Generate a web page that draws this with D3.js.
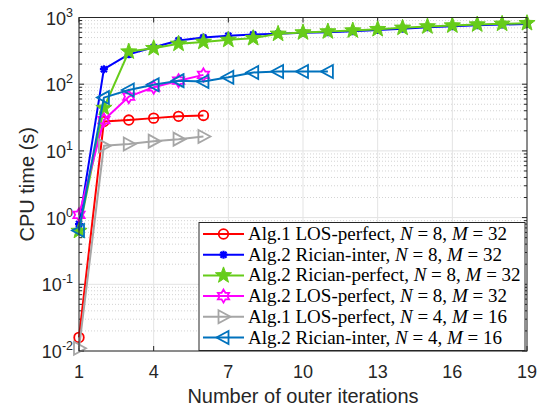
<!DOCTYPE html>
<head>
  <meta charset="utf-8">
  <script src="https://d3js.org/d3.v7.min.js"></script>
  <style>
    body { margin:0; background:#fff; }
    text { font-family: Helvetica, Arial, "Liberation Sans", sans-serif; fill:#262626; }
  </style>
</head>
<body>
<script>
  // data
  var iters = d3.range(1, 20);
  var alg1LosN8   = [0.016, 27.5, 29, 31, 33, 34];
  var alg2RicN8   = [0.8, 168, 280, 359, 452, 502, 531, 556, 569, 589, 600, 620, 650, 680, 712, 738, 765, 785, 800];
  var alg2RicPfN8 = [0.63, 44, 308, 346, 403, 431, 462, 490, 569, 596, 617, 638, 668, 700, 733, 758, 785, 804, 822];
  var alg2LosN8   = [1.1, 29, 65, 90, 113, 138];
  var alg1LosN4   = [0.011, 11.9, 12.7, 14, 15, 16.4];
  var alg2RicN4   = [0.64, 63, 82, 98, 113, 110, 127, 150, 155, 155, 155];
  var xTicks = [1, 4, 7, 10, 13, 16, 19];
  var yExps = [-2, -1, 0, 1, 2, 3];

  var series = [
    {name: "Alg.1 LOS-perfect", n: 8, m: 32, vals: alg1LosN8, color: "#ff0000", mk: "circle"},
    {name: "Alg.2 Rician-inter", n: 8, m: 32, vals: alg2RicN8, color: "#0000ff", mk: "asterisk"},
    {name: "Alg.2 Rician-perfect", n: 8, m: 32, vals: alg2RicPfN8, color: "#66cc1a", mk: "pentagram"},
    {name: "Alg.2 LOS-perfect", n: 8, m: 32, vals: alg2LosN8, color: "#ff00ff", mk: "hexagram"},
    {name: "Alg.1 LOS-perfect", n: 4, m: 16, vals: alg1LosN4, color: "#a6a6a6", mk: "right"},
    {name: "Alg.2 Rician-inter", n: 4, m: 16, vals: alg2RicN4, color: "#0072bd", mk: "left"}
  ];

  var width = 539, height = 408;
  var margin = {top: 17.5, right: 12, bottom: 57, left: 79};
  var svg = d3.select("body").append("svg").attr("width", width).attr("height", height);

  var x = d3.scaleLinear().domain([1, 19]).range([margin.left, width - margin.right]);
  var y = d3.scaleLog().domain([1e-2, 1e3]).range([height - margin.bottom, margin.top]);
  var x0 = x.range()[0], x1 = x.range()[1], y0 = y.range()[0], y1 = y.range()[1];

  // minor values for the log axis
  var minors = [];
  yExps.slice(0, -1).forEach(function(e) {
    for (var k = 2; k < 10; k++) minors.push(k * Math.pow(10, e));
  });

  var grid = svg.append("g");
  grid.selectAll("line.ymin").data(minors).enter().append("line")
    .attr("x1", x0).attr("x2", x1).attr("y1", d => y(d)).attr("y2", d => y(d))
    .attr("stroke", "#c8c8c8").attr("stroke-width", 0.8).attr("stroke-dasharray", "1,2");
  grid.selectAll("line.ymaj").data(yExps).enter().append("line")
    .attr("x1", x0).attr("x2", x1).attr("y1", d => y(Math.pow(10, d))).attr("y2", d => y(Math.pow(10, d)))
    .attr("stroke", "#e3e3e3").attr("stroke-width", 1);
  grid.selectAll("line.xmaj").data(xTicks).enter().append("line")
    .attr("x1", d => x(d)).attr("x2", d => x(d)).attr("y1", y0).attr("y2", y1)
    .attr("stroke", "#e3e3e3").attr("stroke-width", 1);

  // ticks all around
  var ax = svg.append("g").attr("stroke", "#262626").attr("stroke-width", 1);
  xTicks.forEach(function(t) {
    ax.append("line").attr("x1", x(t)).attr("x2", x(t)).attr("y1", y0).attr("y2", y0 - 5);
    ax.append("line").attr("x1", x(t)).attr("x2", x(t)).attr("y1", y1).attr("y2", y1 + 5);
  });
  yExps.forEach(function(e) {
    var yy = y(Math.pow(10, e));
    ax.append("line").attr("x1", x0).attr("x2", x0 + 5).attr("y1", yy).attr("y2", yy);
    ax.append("line").attr("x1", x1).attr("x2", x1 - 5).attr("y1", yy).attr("y2", yy);
  });
  minors.forEach(function(v) {
    var yy = y(v);
    ax.append("line").attr("x1", x0).attr("x2", x0 + 3).attr("y1", yy).attr("y2", yy);
    ax.append("line").attr("x1", x1).attr("x2", x1 - 3).attr("y1", yy).attr("y2", yy);
  });

  // tick labels
  svg.selectAll("text.xt").data(xTicks).enter().append("text")
    .attr("x", d => x(d)).attr("y", y0 + 27).attr("text-anchor", "middle")
    .style("font-size", "18px").text(d => d);
  var yl = svg.selectAll("text.yt").data(yExps).enter().append("text")
    .attr("x", x0 - 6).attr("y", d => y(Math.pow(10, d)) + 7).attr("text-anchor", "end")
    .style("font-size", "18px");
  yl.append("tspan").text("10");
  yl.append("tspan").attr("dy", -8).style("font-size", "12.5px").text(d => d);

  svg.append("text").attr("x", (x0 + x1) / 2).attr("y", 403).attr("text-anchor", "middle")
    .style("font-size", "20px").text("Number of outer iterations");
  svg.append("text").attr("transform", "translate(34," + ((y0 + y1) / 2) + ")rotate(-90)")
    .attr("text-anchor", "middle").style("font-size", "20px").text("CPU time (s)");

  // markers
  function star(n, ro, ri) {
    var p = [];
    for (var i = 0; i < 2 * n; i++) {
      var a = -Math.PI / 2 + i * Math.PI / n, r = i % 2 ? ri : ro;
      p.push([r * Math.cos(a), r * Math.sin(a)]);
    }
    return "M" + p.join("L") + "Z";
  }
  function drawMarker(g, s, cx, cy) {
    var m = g.append("path").attr("transform", "translate(" + cx + "," + cy + ")")
      .attr("stroke", s.color).attr("stroke-width", 1.8).attr("fill", "none");
    if (s.mk === "circle") m.attr("d", d3.symbol(d3.symbolCircle, 72)());
    else if (s.mk === "asterisk") m.attr("d", "M-4,0L4,0M0,-4L0,4M-3,-3L3,3M-3,3L3,-3M-1.5,-1.5L1.5,-1.5L1.5,1.5L-1.5,1.5Z").attr("fill", s.color).attr("stroke-width", 2.2);
    else if (s.mk === "pentagram") m.attr("d", star(5, 8.5, 3.5)).attr("fill", s.color).attr("stroke-width", 1);
    else if (s.mk === "hexagram") m.attr("d", star(6, 6.5, 3.8));
    else if (s.mk === "right") m.attr("d", "M-5,-6.5L7,0L-5,6.5Z");
    else if (s.mk === "left") m.attr("d", "M5,-6.5L-7,0L5,6.5Z");
  }

  var line = d3.line().x((d, i) => x(iters[i])).y(d => y(d));
  var plot = svg.append("g");
  series.forEach(function(s) {
    var g = plot.append("g");
    g.append("path").attr("d", line(s.vals)).attr("fill", "none")
      .attr("stroke", s.color).attr("stroke-width", 2).attr("stroke-linejoin", "round");
    s.vals.forEach(function(v, i) { drawMarker(g, s, x(iters[i]), y(v)); });
  });

  // box
  svg.append("rect").attr("x", x0).attr("y", y1).attr("width", x1 - x0).attr("height", y0 - y1)
    .attr("fill", "none").attr("stroke", "#262626").attr("stroke-width", 1);

  // legend
  var lg = svg.append("g");
  lg.append("rect").attr("x", 199).attr("y", 222.5).attr("width", 326).attr("height", 128)
    .attr("fill", "#fff").attr("stroke", "#262626").attr("stroke-width", 1);
  series.forEach(function(s, i) {
    var yy = 234 + i * 20.7;
    lg.append("line").attr("x1", 203).attr("x2", 244).attr("y1", yy).attr("y2", yy)
      .attr("stroke", s.color).attr("stroke-width", 2);
    drawMarker(lg, s, 223.5, yy);
    var t = lg.append("text").attr("x", 248).attr("y", yy + 6)
      .style("font-family", "'Liberation Serif','DejaVu Serif',serif").style("font-size", "19px")
      .style("fill", "#000");
    t.append("tspan").text(s.name + ", ");
    t.append("tspan").style("font-style", "italic").text("N");
    t.append("tspan").text(" = " + s.n + ", ");
    t.append("tspan").style("font-style", "italic").text("M");
    t.append("tspan").text(" = " + s.m);
  });
</script>
</body>
</html>
